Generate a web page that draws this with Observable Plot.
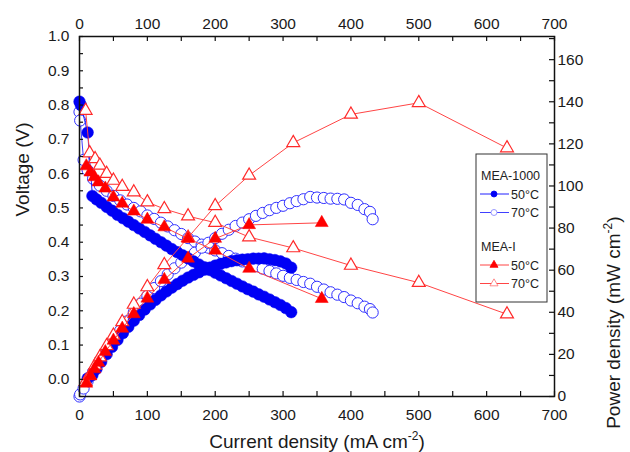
<!DOCTYPE html>
<html><head><meta charset="utf-8">
<script src="https://cdn.jsdelivr.net/npm/d3@7"></script>
<script src="https://cdn.jsdelivr.net/npm/@observablehq/plot@0.6"></script>
<style>
body{margin:0;background:#fff;} svg{display:block;}
g[aria-label$="tick label"]{font-size:15.5px !important;}
g[aria-label$="tick label"] text{font-size:15.5px !important;}
</style>
</head><body><div id="chart"></div>
<script>
// MEA-1000, 50 °C (filled blue circles)
const curB50 = [0, 2, 12, 19, 25, 32, 40, 48, 56, 64, 72, 80, 88, 96, 104, 112, 120, 128, 136, 144, 152, 160, 168, 176, 184, 192, 200, 208, 216, 224, 232, 240, 248, 256, 264, 272, 280, 288, 296, 304, 312];
const voltB50 = [0.81, 0.80, 0.72, 0.535, 0.525, 0.515, 0.503, 0.492, 0.48, 0.47, 0.46, 0.45, 0.44, 0.43, 0.42, 0.41, 0.40, 0.39, 0.38, 0.371, 0.362, 0.353, 0.344, 0.335, 0.327, 0.319, 0.311, 0.303, 0.295, 0.287, 0.279, 0.271, 0.263, 0.256, 0.248, 0.241, 0.233, 0.225, 0.217, 0.208, 0.196];
const powB50 = [null, null, 8.6, 10.2, 13.1, 16.5, 20.1, 23.6, 26.9, 30.1, 33.1, 36, 38.7, 41.3, 43.7, 45.9, 48, 49.9, 51.7, 53.4, 55, 56.5, 57.8, 59, 60.2, 61.2, 62.2, 63, 63.7, 64.3, 64.7, 65, 65.2, 65.5, 65.5, 65.6, 65.2, 64.8, 64.2, 63.2, 61.2];
// MEA-1000, 70 °C (open blue circles)
const curB70 = [0, 1, 6, 12, 20, 30, 40, 50, 60, 70, 80, 90, 100, 110, 120, 130, 140, 150, 160, 170, 180, 190, 200, 210, 220, 230, 240, 250, 260, 270, 280, 290, 300, 310, 320, 330, 340, 350, 360, 370, 380, 390, 400, 410, 420, 428, 432];
const voltB70 = [0.78, 0.755, 0.64, 0.61, 0.585, 0.565, 0.55, 0.535, 0.522, 0.51, 0.5, 0.49, 0.478, 0.468, 0.457, 0.446, 0.435, 0.424, 0.412, 0.402, 0.393, 0.384, 0.376, 0.368, 0.36, 0.352, 0.344, 0.337, 0.33, 0.323, 0.316, 0.309, 0.302, 0.296, 0.29, 0.284, 0.279, 0.27, 0.262, 0.254, 0.247, 0.24, 0.23, 0.222, 0.212, 0.205, 0.195];
const powB70 = [0, 1.0, 3.8, 7.3, 11.7, 17, 22, 26.8, 31.3, 35.7, 40, 44.1, 47.8, 51.5, 54.8, 58, 60.9, 63.6, 65.9, 68.3, 70.7, 73, 75.2, 77.3, 79.2, 81, 82.6, 84.2, 85.8, 87.2, 88.5, 89.6, 90.6, 91.8, 92.8, 93.7, 94.8, 94.5, 94.3, 94, 93.9, 93.6, 92, 91, 89, 87.7, 84.2];
// MEA-I, 50 °C (filled red triangles)
const curR50 = [10, 16, 22, 28, 38, 50, 63, 80, 100, 125, 160, 200, 250, 357];
const voltR50 = [0.622, 0.604, 0.59, 0.575, 0.557, 0.531, 0.513, 0.49, 0.466, 0.444, 0.41, 0.376, 0.323, 0.235];
const powR50 = [6.2, 9.7, 13.0, 16.1, 21.2, 26.6, 32.3, 39.2, 46.6, 55.5, 65.6, 75.0, 81.5, 82.5];
// MEA-I, 70 °C (open red triangles)
const curR70 = [9, 15, 23, 30, 40, 50, 63, 80, 100, 125, 160, 200, 250, 315, 400, 500, 630];
const voltR70 = [0.784, 0.66, 0.643, 0.624, 0.6, 0.58, 0.562, 0.546, 0.517, 0.497, 0.476, 0.457, 0.415, 0.383, 0.332, 0.282, 0.19];
const powR70 = [7.0, 9.9, 14.8, 18.7, 24.0, 29.0, 35.4, 43.7, 52.0, 62.5, 75.5, 90.5, 105, 120.5, 134, 139.5, 118];

// ticks
const xTicks = [0, 100, 200, 300, 400, 500, 600, 700];
const xMinor = [0, 50, 100, 150, 200, 250, 300, 350, 400, 450, 500, 550, 600, 650, 700];
const vTicks = [0, 1, 2, 3, 4, 5, 6, 7, 8, 9, 10].map(i => i / 10);
const vMinor = d3.range(0, 21).map(i => i / 20);
const pTicks = [0, 20, 40, 60, 80, 100, 120, 140, 160];
const pMinor = d3.range(0, 18).map(i => i * 10);

const W = 630, H = 452;
const mL = 79, mR = 76, mT = 36, mB = 56;
const plotW = W - mL - mR, plotH = H - mT - mB;
// power axis (right) mapped onto the voltage axis range
const toV = d3.scaleLinear().domain([0, 171]).range([-0.05, 1.0]);

const rows = (I, Y) => I.map((x, i) => ({x, y: Y[i]}));
const prows = (I, P) => I.map((x, i) => ({x, y: P[i] == null ? null : toV(P[i])}));

const series = [
  {I: curB70, V: voltB70, P: powB70, symbol: "circle", fill: "white", stroke: "#3030ff", line: "#4040ff", r: 5.6, sw: 1},
  {I: curB50, V: voltB50, P: powB50, symbol: "circle", fill: "#0000f5", stroke: "#0000f5", line: "#2020ff", r: 5.8, sw: 0.5},
  {I: curR70, V: voltR70, P: powR70, symbol: "triangle", fill: "white", stroke: "#ff2a2a", line: "#ff4545", r: 4.8, sw: 1.2},
  {I: curR50, V: voltR50, P: powR50, symbol: "triangle", fill: "#ff0000", stroke: "#ff0000", line: "#ff4545", r: 4.8, sw: 0.5}
];

const dataMarks = [];
for (const s of series) {
  for (const d of [rows(s.I, s.V), prows(s.I, s.P)]) {
    const dd = d.filter(p => p.y != null);
    dataMarks.push(Plot.line(dd, {x: "x", y: "y", stroke: s.line, strokeWidth: 1}));
    dataMarks.push(Plot.dot(dd, {x: "x", y: "y", symbol: s.symbol, r: s.r, fill: s.fill, stroke: s.stroke, strokeWidth: s.sw}));
  }
}

const chart = Plot.plot({
  width: W, height: H,
  marginLeft: mL, marginRight: mR, marginTop: mT, marginBottom: mB,
  style: {fontFamily: "'Liberation Sans', Arial, sans-serif", fontSize: "15.5px", color: "#1a1a1a", background: "white"},
  x: {domain: [0, 700], axis: null},
  y: {domain: [-0.05, 1.0], axis: null},
  marks: [
    ...dataMarks,
    Plot.frame({stroke: "#111", strokeWidth: 1.5}),
    Plot.tickX(xMinor, {x: d => d, insetTop: plotH - 5, stroke: "#111", strokeWidth: 1.2}),
    Plot.tickX(xMinor, {x: d => d, insetBottom: plotH - 5, stroke: "#111", strokeWidth: 1.2}),
    Plot.tickY(vMinor, {y: d => d, insetRight: plotW - 4, stroke: "#111", strokeWidth: 1.2}),
    Plot.tickY(pMinor.map(toV), {y: d => d, insetLeft: plotW - 5, stroke: "#111", strokeWidth: 1.2}),
    Plot.axisX({anchor: "bottom", ticks: xTicks, tickSize: 0, tickPadding: 12, tickFormat: d3.format("d"), label: null}),
    Plot.axisX({anchor: "top", ticks: xTicks, tickSize: 0, tickPadding: 8, tickFormat: d3.format("d"), label: null}),
    Plot.axisY({anchor: "left", ticks: vTicks, tickSize: 0, tickPadding: 10, tickFormat: d3.format(".1f"), label: null}),
    Plot.axisY({anchor: "right", ticks: pTicks.map(toV), tickSize: 0, tickPadding: 3, tickFormat: v => d3.format("d")(Math.round(toV.invert(v))), label: null}),
    Plot.text(["Current density (mA cm-2)"], {frameAnchor: "bottom", dy: 51, fill: "#1a1a1a"}),
    Plot.text(["Voltage (V)"], {frameAnchor: "left", dx: -57, rotate: -90, fill: "#1a1a1a"}),
    Plot.text(["Power density (mW cm-2)"], {frameAnchor: "right", dx: 59, rotate: -90, fill: "#1a1a1a"})
  ]
});

// axis titles: size and superscripts for the unit labels
d3.select(chart).selectAll("text").each(function() {
  const t = this.textContent;
  const el = d3.select(this);
  if (t === "Voltage (V)" || t.endsWith("cm-2)")) {
    el.attr("font-size", "19px").style("font-size", "19px");
  }
  if (t.endsWith("cm-2)")) {
    const base = t.slice(0, -3);
    el.text(base);
    el.append("tspan").attr("dy", -8).attr("font-size", "12px").style("font-size", "12px").text("-2");
    el.append("tspan").attr("dy", 8).text(")");
  }
});

// legend box inside the plot area
const lg = d3.select(chart).append("g")
  .attr("font-family", "'Liberation Sans', Arial, sans-serif")
  .attr("text-anchor", "start")
  .attr("font-size", "12.5px").attr("fill", "#222");
lg.append("rect").attr("x", 476).attr("y", 154).attr("width", 71).attr("height", 148)
  .attr("fill", "white").attr("stroke", "#333").attr("stroke-width", 1);
const legendRows = [
  {title: "MEA-1000", ty: 180},
  {label: "50\u00B0C", y: 194, color: "#2020ff", sym: d3.symbolCircle, fill: "#0000f5", stroke: "#0000f5"},
  {label: "70\u00B0C", y: 212.5, color: "#4040ff", sym: d3.symbolCircle, fill: "white", stroke: "#8080ff"},
  {title: "MEA-I", ty: 251},
  {label: "50\u00B0C", y: 265, color: "#ff4545", sym: d3.symbolTriangle, fill: "#ff0000", stroke: "#ff0000"},
  {label: "70\u00B0C", y: 283.5, color: "#ff4545", sym: d3.symbolTriangle, fill: "white", stroke: "#ff7070"}
];
for (const r of legendRows) {
  if (r.title) {
    lg.append("text").attr("x", 481).attr("y", r.ty).attr("text-anchor", "start").text(r.title);
  } else {
    lg.append("line").attr("x1", 480).attr("x2", 509).attr("y1", r.y).attr("y2", r.y)
      .attr("stroke", r.color).attr("stroke-width", 1);
    lg.append("path").attr("d", d3.symbol(r.sym, 28)()).attr("transform", `translate(494,${r.y})`)
      .attr("fill", r.fill).attr("stroke", r.stroke).attr("stroke-width", 0.8);
    lg.append("text").attr("x", 511).attr("y", r.y + 4.5).attr("text-anchor", "start").text(r.label);
  }
}

document.getElementById("chart").appendChild(chart);
</script>
</body></html>
